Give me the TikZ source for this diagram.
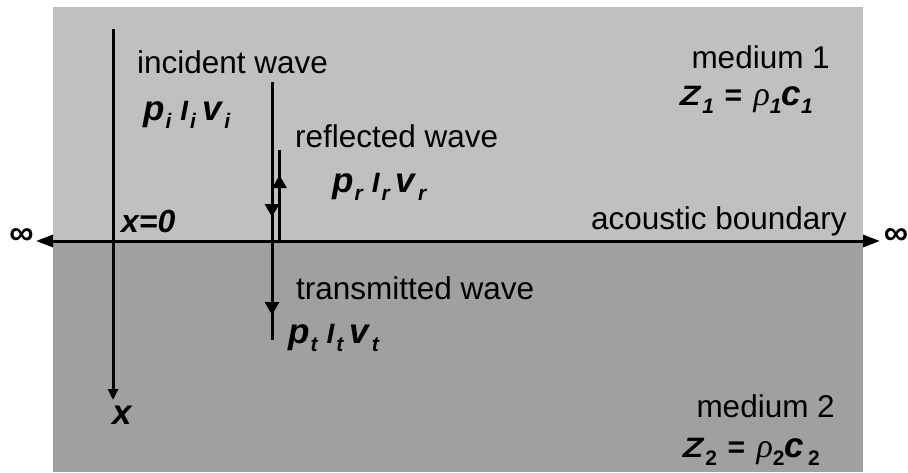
\documentclass[tikz,border=0pt]{standalone}
\usepackage{fontspec}
\setmainfont{Liberation Sans}
\newfontfamily\serifgr{Liberation Serif}
\usetikzlibrary{arrows.meta,decorations.markings}
\definecolor{upperfill}{HTML}{C0C0C0}
\definecolor{lowerfill}{HTML}{A0A0A0}
\newcommand\bq[2][35]{{\fontsize{#1}{#1}\selectfont\bfseries\itshape #2}}
\newcommand\sq[1]{\raisebox{-8pt}{\fontsize{21}{21}\selectfont\bfseries\itshape #1}}
\newcommand\squ[1]{\raisebox{-8pt}{\fontsize{21}{21}\selectfont\bfseries #1}}
\newcommand\rhoq{{\fontsize{34}{34}\selectfont\serifgr\itshape ρ}}
\newcommand\wq[1]{\bq{p}\hspace{1pt}\sq{#1}\hspace{9pt}\bq[28]{I}\hspace{2pt}\sq{#1}\hspace{6pt}\bq{v}\hspace{3pt}\sq{#1}}
\newcommand\zz{\scalebox{1.2}[1]{\bq[28]{Z}}}
\tikzset{
  bigtip/.tip={Triangle[length=17pt,width=12pt]},
  wavetip/.tip={Triangle[length=13pt,width=14pt]},
  axtip/.tip={Triangle[length=11pt,width=10pt]},
}
\begin{document}
\begin{tikzpicture}[x=1pt,y=-1pt,
  lbl/.style={inner sep=0pt,font=\fontsize{31.5}{31.5}\selectfont},
  ln/.style={line width=3pt},
]
\useasboundingbox (0,0) rectangle (908,472);
\clip (0,0) rectangle (908,472);
\fill[upperfill] (53,7) rectangle (863,241);
\fill[lowerfill] (53,241) rectangle (863,472);

% coordinates
\coordinate (bl) at (36,241);
\coordinate (br) at (880,241);
\coordinate (xa) at (113,29);
\coordinate (xb) at (113,400);
\coordinate (inA) at (272,82);
\coordinate (trB) at (272,340);
\coordinate (rfA) at (279.5,241);
\coordinate (rfB) at (279.5,150);

% axis x
\draw[ln,-axtip] (xa) -- (xb);
% boundary
\draw[ln,bigtip-bigtip] (bl) -- (br);
% incident + transmitted
\draw[ln,decoration={markings,
    mark=at position 135pt with {\arrow{wavetip}},
    mark=at position 233pt with {\arrow{wavetip}}},
    postaction={decorate}] (inA) -- (trB);
% reflected
\draw[ln,decoration={markings,
    mark=at position 66pt with {\arrow{wavetip}}},
    postaction={decorate}] (rfA) -- (rfB);

% infinity
\node[lbl,font=\fontsize{34}{34}\selectfont\bfseries] (infl) at (21.5,236) {∞};
\node[lbl,font=\fontsize{34}{34}\selectfont\bfseries] (infr) at (896,236) {∞};

% labels
\node[lbl,anchor=base west] (inc) at (137,73) {incident wave};
\node[lbl,anchor=base west] (inq) at (143,120) {\wq{i}};
\node[lbl,anchor=base west] (ref) at (295,147) {reflected wave};
\node[lbl,anchor=base west] (rfq) at (332,192) {\wq{r}};
\node[lbl,anchor=base west] (x0) at (121,232) {\bq[32]{x=0}};
\node[lbl,anchor=base east] (ab) at (847,229) {acoustic boundary};
\node[lbl,anchor=base west] (tr) at (296,299) {transmitted wave};
\node[lbl,anchor=base west] (trq) at (288,343) {\wq{t}};
\node[lbl,anchor=base west] (xl) at (112,424) {\bq{x}};
\node[lbl,anchor=base east] (m1) at (830,68) {medium 1};
\node[lbl,anchor=base east] (z1) at (813,105) {\zz\hspace{2pt}\sq{1}\hspace{10pt}\bq[30]{=}\hspace{12pt}\rhoq\sq{1}\bq{c}\sq{1}};
\node[lbl,anchor=base east] (m2) at (835,417) {medium 2};
\node[lbl,anchor=base east] (z2) at (820,457) {\zz\hspace{2pt}\squ{2}\hspace{10pt}\bq[30]{=}\hspace{12pt}\rhoq\squ{2}\bq{c}\hspace{4pt}\squ{2}};
\end{tikzpicture}
\end{document}
